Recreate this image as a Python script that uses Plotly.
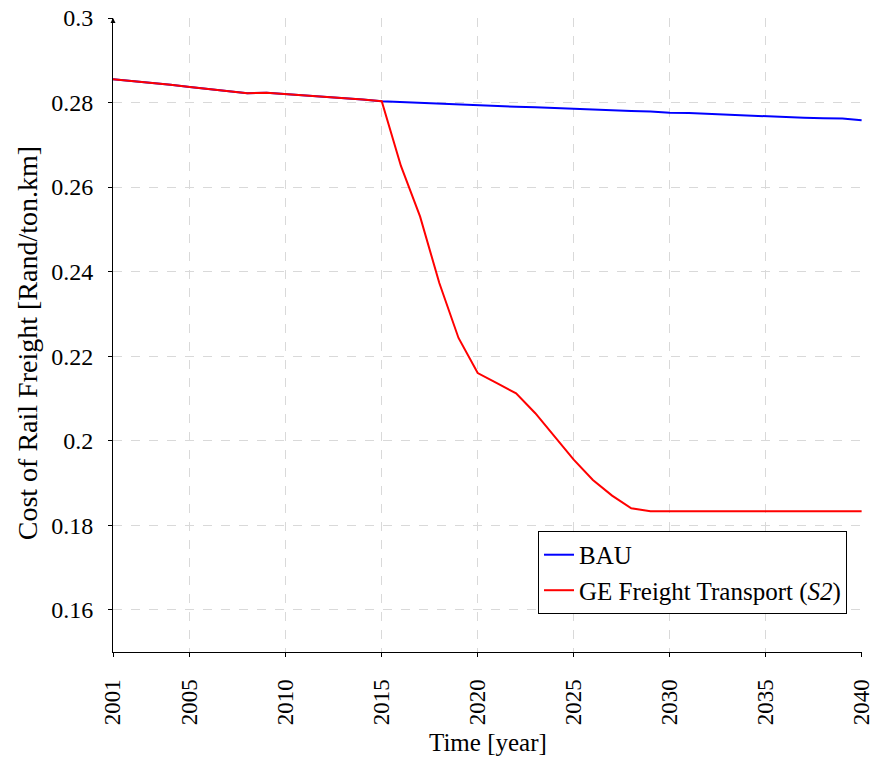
import plotly.graph_objects as go

# Years of the projection
years = list(range(2001, 2041))

# Business-as-usual cost of rail freight (Rand per ton.km)
bau = [0.2855, 0.2851, 0.2847, 0.2842, 0.2837, 0.2832, 0.2826, 0.2822, 0.2823, 0.2820,
       0.2817, 0.2813, 0.2810, 0.2807, 0.2803, 0.2801, 0.2799, 0.2797, 0.2796, 0.2794,
       0.2792, 0.2790, 0.2789, 0.2787, 0.2785, 0.2784, 0.2782, 0.2780, 0.2779, 0.2776,
       0.2775, 0.2773, 0.2772, 0.2770, 0.2768, 0.2765, 0.2764, 0.2763, 0.2762, 0.2758]

# Green-economy freight transport scenario (S2)
ge_s2 = [0.2855, 0.2851, 0.2847, 0.2842, 0.2837, 0.2832, 0.2826, 0.2822, 0.2823, 0.2820,
         0.2817, 0.2813, 0.2810, 0.2807, 0.2803, 0.2650, 0.2530, 0.2373, 0.2243, 0.2160,
         0.2136, 0.2112, 0.2065, 0.2010, 0.1955, 0.1907, 0.1870, 0.1840, 0.1833, 0.1833,
         0.1833, 0.1833, 0.1833, 0.1833, 0.1833, 0.1833, 0.1833, 0.1833, 0.1833, 0.1833]

x_ticks = [2001, 2005, 2010, 2015, 2020, 2025, 2030, 2035, 2040]
y_ticks = [0.16, 0.18, 0.2, 0.22, 0.24, 0.26, 0.28, 0.3]
y_tick_text = ["0.16", "0.18", "0.2", "0.22", "0.24", "0.26", "0.28", "0.3"]

FONT = "Liberation Serif"

fig = go.Figure()
fig.add_trace(go.Scatter(x=years, y=bau, mode="lines", name="BAU",
                         line=dict(color="#0000ff", width=2)))
fig.add_trace(go.Scatter(x=years, y=ge_s2, mode="lines",
                         name="GE Freight Transport (<i>S2</i>)",
                         line=dict(color="#ff0000", width=2)))

grid = dict(showgrid=True, gridcolor="#d9d9d9", griddash="dash", gridwidth=1)

fig.update_layout(
    width=873, height=758,
    margin=dict(l=113, r=11, t=18, b=106),
    paper_bgcolor="white", plot_bgcolor="white",
    font=dict(family=FONT, size=23, color="black"),
    showlegend=True,
    legend=dict(x=0.98, y=0.06, xanchor="right", yanchor="bottom",
                bordercolor="black", borderwidth=1, bgcolor="white",
                font=dict(family=FONT, size=25), tracegroupgap=0,
                itemwidth=30),
    xaxis=dict(range=[2001, 2040.02], tickvals=x_ticks, tickangle=-90,
               ticks="outside", ticklen=4, tickcolor="black",
               ticklabelstandoff=13, ticklabeloverflow="allow",
               showline=True, linecolor="black", linewidth=1,
               zeroline=False, automargin=False, **grid),
    yaxis=dict(range=[0.15, 0.3], tickvals=y_ticks, ticktext=y_tick_text,
               ticks="outside", ticklen=4, tickcolor="black",
               ticklabelstandoff=10, ticklabeloverflow="allow",
               tickfont=dict(family=FONT, size=24),
               showline=True, linecolor="black", linewidth=1,
               zeroline=False, automargin=False, **grid),
)

# Axis titles
fig.add_annotation(text="Time [year]", xref="paper", yref="paper",
                   x=0.5, y=-0.1435, xanchor="center", yanchor="middle",
                   showarrow=False, font=dict(family=FONT, size=25))
fig.add_annotation(text="Cost of Rail Freight [Rand/ton.km]", xref="paper", yref="paper",
                   x=-0.1148, y=0.487, xanchor="center", yanchor="middle",
                   textangle=-90, showarrow=False, font=dict(family=FONT, size=28))

# Arrow tip at the top of the vertical axis
fig.add_annotation(x=2001, y=0.3, xref="x", yref="y", ax=0, ay=6,
                   showarrow=True, arrowhead=2, arrowsize=1, arrowwidth=1,
                   arrowcolor="black", text="")

fig.write_html("out.html")
